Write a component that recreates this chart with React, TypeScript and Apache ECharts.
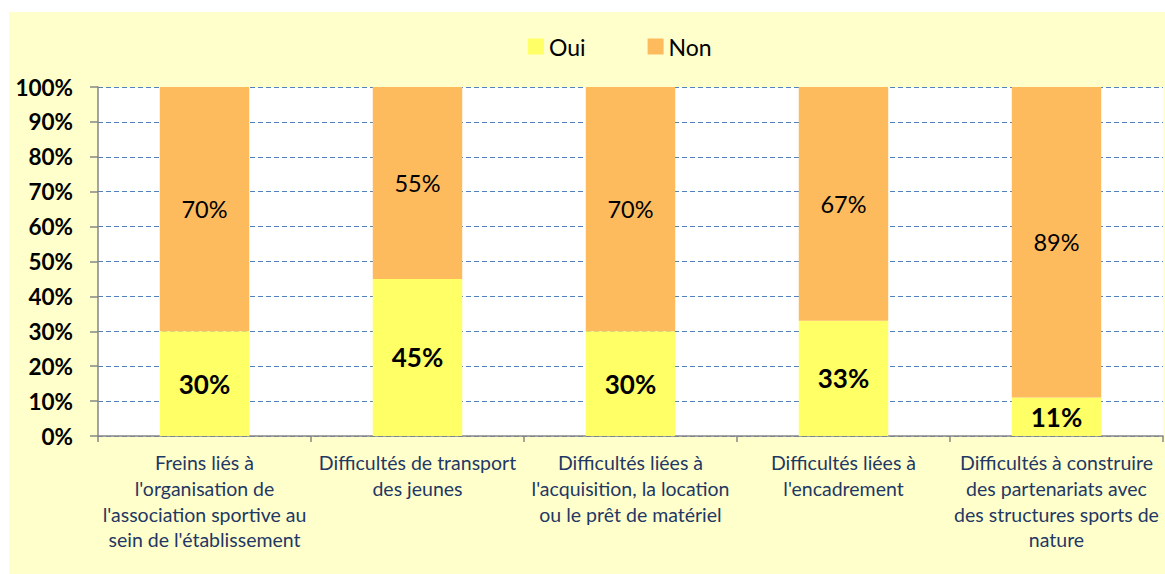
import React, { useEffect, useRef } from "react";
import * as echarts from "echarts";

const categories = [
  "Freins liés à\nl'organisation de\nl'association sportive au\nsein de l'établissement",
  "Difficultés de transport\ndes jeunes",
  "Difficultés liées à\nl'acquisition, la location\nou le prêt de matériel",
  "Difficultés liées à\nl'encadrement",
  "Difficultés à construire\ndes partenariats avec\ndes structures sports de\nnature",
];
const oui = [30, 45, 30, 33, 11];
const non = [70, 55, 70, 67, 89];
const FONT = "Lato, 'Liberation Sans', sans-serif";

export default function App() {
  const ref = useRef<HTMLDivElement>(null);
  useEffect(() => {
    const chart = echarts.init(ref.current!, null, { renderer: "svg" });
    chart.setOption({
      animation: false,
      backgroundColor: "#FFFFCC",
      textStyle: { fontFamily: FONT },
      legend: {
        top: 18,
        left: 514,
        itemWidth: 16,
        itemHeight: 16,
        itemGap: 62,
        icon: "rect",
        textStyle: { fontSize: 23, color: "#000", fontFamily: FONT },
        data: ["Oui", "Non"],
      },
      grid: {
        left: 89,
        right: 2,
        top: 75,
        bottom: 138,
        show: true,
        backgroundColor: "#FFFFFF",
        borderWidth: 0,
      },
      xAxis: {
        type: "category",
        data: categories,
        axisLine: { lineStyle: { color: "#868686", width: 1.5 } },
        axisTick: { show: true, length: 6, lineStyle: { color: "#868686", width: 1.5 } },
        axisLabel: {
          interval: 0,
          margin: 14,
          fontSize: 19.5,
          lineHeight: 25.7,
          color: "#1F3864",
          fontFamily: FONT,
          align: "center",
        },
      },
      yAxis: {
        type: "value",
        min: 0,
        max: 100,
        interval: 10,
        axisLine: { show: true, lineStyle: { color: "#868686", width: 1.5 } },
        axisTick: { show: true, length: 8, lineStyle: { color: "#868686", width: 1.5 } },
        axisLabel: {
          formatter: "{value}%",
          fontSize: 22.5,
          fontWeight: "bold",
          color: "#000",
          margin: 25,
          fontFamily: FONT,
        },
        splitLine: { lineStyle: { color: "#4F81BD", type: [5, 3], width: 1.2 } },
      },
      series: [
        {
          name: "Oui",
          type: "bar",
          stack: "total",
          data: oui,
          barWidth: "42%",
          itemStyle: { color: "#FFFF66" },
          label: {
            show: true,
            position: "inside",
            formatter: "{c}%",
            fontSize: 26,
            fontWeight: "bold",
            color: "#000",
            fontFamily: FONT,
          },
        },
        {
          name: "Non",
          type: "bar",
          stack: "total",
          data: non,
          barWidth: "42%",
          itemStyle: { color: "#FDBB5E" },
          label: {
            show: true,
            position: "inside",
            formatter: "{c}%",
            fontSize: 23.5,
            color: "#000",
            fontFamily: FONT,
          },
        },
      ],
    });
    return () => chart.dispose();
  }, []);
  return (
    <div
      ref={ref}
      style={{ position: "absolute", left: 9, top: 12, width: 1156, height: 562 }}
    />
  );
}
